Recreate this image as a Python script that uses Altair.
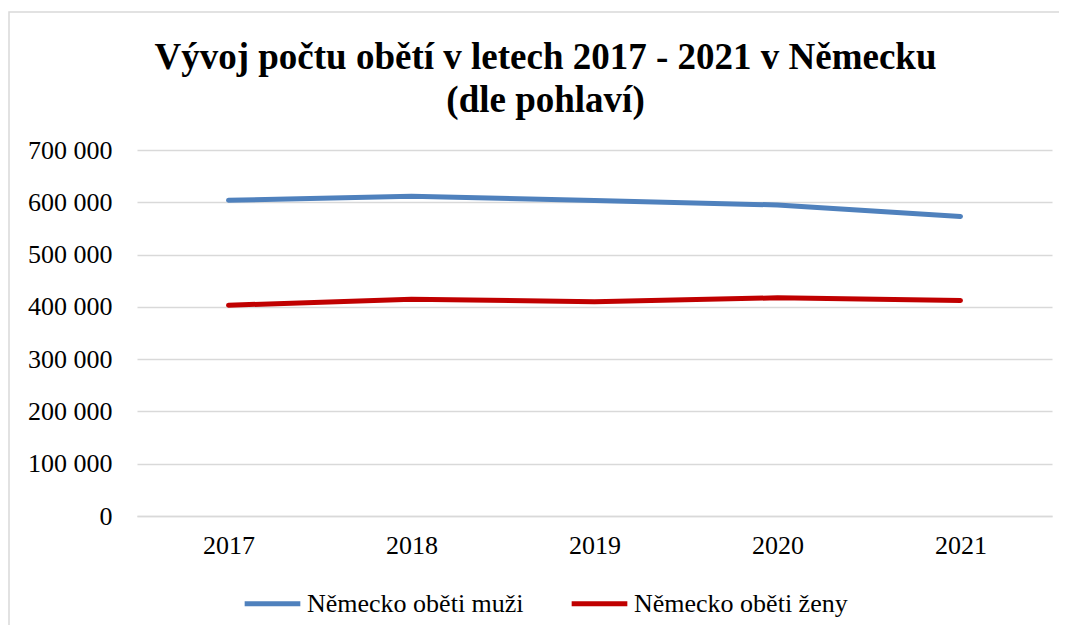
import altair as alt
import pandas as pd

years = ["2017", "2018", "2019", "2020", "2021"]
muzi = [603800, 611500, 603200, 594900, 573000]
zeny = [403000, 414700, 409600, 417300, 412000]
series_names = ["Německo oběti muži", "Německo oběti ženy"]
series_colors = ["#4F81BD", "#C00000"]
y_ticks = [0, 100000, 200000, 300000, 400000, 500000, 600000, 700000]

rows = []
for name, vals in zip(series_names, [muzi, zeny]):
    for yr, v in zip(years, vals):
        rows.append({"rok": yr, "hodnota": v, "serie": name})
df = pd.DataFrame(rows)

FONT = "Liberation Serif"
W, H = 915, 366

lines = alt.Chart(df).mark_line(strokeWidth=5, strokeCap="round", strokeJoin="round").encode(
    x=alt.X("rok:O", sort=years, scale=alt.Scale(type="point", padding=0.5),
            axis=alt.Axis(title=None, labelAngle=0, ticks=False, domain=True,
                          domainColor="#d9d9d9", domainWidth=1.3, grid=False,
                          labelPadding=16, labelFontSize=26, labelFont=FONT,
                          labelColor="#000000")),
    y=alt.Y("hodnota:Q", scale=alt.Scale(domain=[0, 700000], nice=False),
            axis=alt.Axis(title=None, values=y_ticks, ticks=False, tickSize=0, domain=False,
                          grid=True, gridColor="#d9d9d9", gridWidth=1.3,
                          labelPadding=25, labelFontSize=26, labelFont=FONT,
                          labelColor="#000000",
                          labelExpr="replace(format(datum.value, ','), ',', ' ')")),
    color=alt.Color("serie:N", sort=series_names,
                    scale=alt.Scale(domain=series_names, range=series_colors),
                    legend=alt.Legend(title=None, orient="none", direction="horizontal",
                                      legendX=105, legendY=423,
                                      symbolType="stroke", symbolSize=3100,
                                      symbolStrokeWidth=5, labelOffset=4,
                                      columnPadding=37, labelFontSize=26,
                                      labelLimit=500,
                                      labelFont=FONT, labelColor="#000000")),
)

frame = alt.Chart(pd.DataFrame({"a": [0]})).mark_rect(
    fill=None, stroke="#d9d9d9", strokeWidth=1.5
).encode(
    x=alt.value(-128), x2=alt.value(W + 200),
    y=alt.value(-138), y2=alt.value(H + 300),
)

chart = alt.layer(frame, lines).properties(
    width=W, height=H,
    title=alt.TitleParams(
        text=["Vývoj počtu obětí v letech 2017 - 2021 v Německu", "(dle pohlaví)"],
        font=FONT, fontSize=37, fontWeight="bold", color="#000000",
        anchor="middle", dx=-49, dy=137, offset=28, lineHeight=43,
    ),
    autosize=alt.AutoSizeParams(type="none"),
    padding={"left": 129, "top": 142, "right": 7, "bottom": 109},
).configure_view(stroke=None)

chart.save("out.html", embed_options={"renderer": "svg", "actions": False})
